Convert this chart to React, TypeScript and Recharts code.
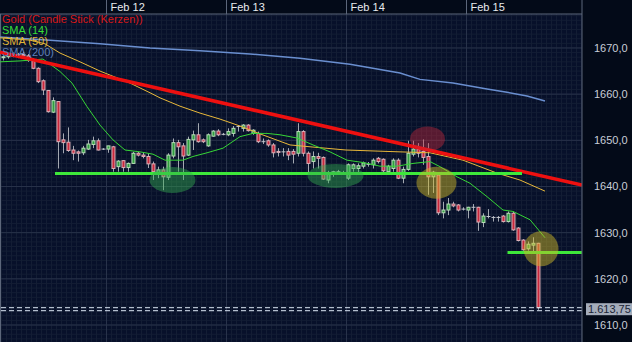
import React from 'react';
import { ComposedChart, Bar, Line, Scatter, XAxis, YAxis, CartesianGrid, ReferenceLine, ReferenceDot } from 'recharts';

// hourly gold candles, index = hour slot from the left edge
const opens = [
  1667.9, 1668.1, 1668.4, 1668.2, 1668.6, 1668.3, 1667.2, 1665.6, 1662.9, 1660.8,
  1656.1, 1658.4, 1650.1, 1649.6, 1647.9, 1647.5, 1647.3, 1648.1, 1649.1, 1649.9,
  1648.1, 1648.1, 1648.6, 1644.3, 1645.6, 1644.1, 1645.0, 1647.2, 1646.8, 1646.5,
  1644.9, 1642.9, 1643.6, 1642.0, 1646.6, 1649.5, 1648.8, 1646.8, 1650.1, 1651.2,
  1650.1, 1648.8, 1650.9, 1652.0, 1651.3, 1651.2, 1651.5, 1653.0, 1652.6, 1653.3,
  1651.5, 1651.5, 1649.7, 1649.9, 1649.0, 1647.6, 1647.5, 1647.6, 1647.6, 1647.2,
  1651.9, 1647.2, 1645.4, 1646.5, 1646.3, 1641.4, 1642.9, 1642.9, 1643.0, 1641.8,
  1643.9, 1643.9, 1644.4, 1644.8, 1644.7, 1646.1, 1645.9, 1643.2, 1643.9, 1645.7,
  1641.8, 1643.7, 1647.0, 1648.1, 1647.6, 1646.5, 1642.1, 1642.5, 1634.3, 1634.9,
  1636.2, 1636.0, 1635.1, 1634.9, 1635.5, 1635.5, 1632.2, 1633.5, 1633.3, 1633.3,
  1633.6, 1632.4, 1634.2, 1631.0, 1628.4, 1626.5, 1627.3, 1627.7,
];
const highs = [
  1668.4, 1668.8, 1669.0, 1668.9, 1669.2, 1668.7, 1667.8, 1665.8, 1663.2, 1660.9,
  1659.3, 1658.5, 1651.5, 1652.8, 1648.8, 1647.8, 1648.8, 1650.1, 1650.8, 1650.4,
  1648.3, 1648.8, 1648.8, 1645.7, 1645.7, 1645.2, 1647.5, 1647.5, 1647.3, 1647.2,
  1645.4, 1644.3, 1644.3, 1647.2, 1650.4, 1650.1, 1649.4, 1650.8, 1652.1, 1653.7,
  1650.4, 1651.5, 1652.2, 1652.4, 1651.6, 1652.6, 1653.1, 1653.3, 1653.5, 1653.5,
  1652.4, 1651.9, 1650.4, 1650.2, 1649.4, 1648.3, 1648.3, 1648.3, 1648.1, 1653.7,
  1652.2, 1647.6, 1647.6, 1647.3, 1646.5, 1643.4, 1643.4, 1643.6, 1643.4, 1645.0,
  1645.0, 1645.0, 1645.4, 1645.3, 1646.1, 1646.4, 1646.1, 1644.7, 1646.1, 1646.1,
  1644.3, 1649.9, 1649.9, 1649.4, 1650.2, 1649.4, 1643.4, 1642.6, 1636.7, 1637.5,
  1636.7, 1636.2, 1635.5, 1635.6, 1636.2, 1635.6, 1634.2, 1635.1, 1633.6, 1633.6,
  1633.8, 1634.6, 1634.6, 1631.2, 1628.6, 1628.1, 1629.0, 1627.8,
];
const lows = [
  1667.3, 1667.7, 1668.0, 1667.8, 1668.1, 1667.0, 1665.4, 1662.4, 1659.8, 1656.0,
  1655.9, 1643.9, 1647.2, 1647.5, 1645.7, 1645.4, 1646.8, 1647.9, 1648.3, 1647.8,
  1647.9, 1647.3, 1643.2, 1643.2, 1643.2, 1643.2, 1644.9, 1646.5, 1646.1, 1644.0,
  1641.4, 1641.8, 1639.2, 1641.4, 1646.1, 1643.2, 1641.4, 1646.6, 1647.9, 1649.5,
  1649.4, 1648.6, 1650.8, 1650.9, 1651.1, 1650.9, 1650.8, 1651.9, 1651.9, 1651.9,
  1651.2, 1649.4, 1649.2, 1648.6, 1646.3, 1646.5, 1646.5, 1645.7, 1645.0, 1646.5,
  1646.5, 1642.9, 1643.9, 1643.9, 1641.4, 1640.7, 1642.1, 1642.5, 1642.6, 1641.4,
  1643.2, 1642.9, 1643.9, 1644.3, 1643.9, 1645.0, 1643.0, 1642.9, 1643.2, 1641.6,
  1640.7, 1643.4, 1646.5, 1646.3, 1644.7, 1638.2, 1638.6, 1633.8, 1633.1, 1633.8,
  1635.5, 1634.6, 1634.8, 1633.1, 1634.6, 1630.4, 1631.2, 1633.1, 1632.4, 1632.4,
  1632.2, 1632.2, 1630.4, 1628.1, 1626.1, 1626.1, 1625.9, 1613.3,
];
const closes = [
  1668.1, 1668.4, 1668.2, 1668.6, 1668.3, 1667.3, 1665.6, 1662.7, 1660.9, 1656.2,
  1658.6, 1649.7, 1649.5, 1647.8, 1647.2, 1647.2, 1648.3, 1649.2, 1649.9, 1647.9,
  1648.1, 1648.8, 1643.9, 1645.5, 1644.1, 1645.0, 1647.2, 1646.8, 1646.5, 1644.9,
  1643.2, 1643.6, 1642.1, 1646.8, 1649.5, 1648.6, 1646.6, 1650.2, 1651.2, 1649.7,
  1649.7, 1651.2, 1652.0, 1651.2, 1651.3, 1651.9, 1652.6, 1653.0, 1653.3, 1652.1,
  1652.2, 1649.7, 1649.7, 1649.0, 1647.3, 1647.4, 1647.5, 1646.8, 1647.0, 1651.9,
  1647.2, 1645.0, 1646.5, 1646.1, 1641.6, 1642.9, 1643.2, 1643.2, 1643.0, 1644.7,
  1644.7, 1644.5, 1645.1, 1644.8, 1645.7, 1645.4, 1643.4, 1644.4, 1645.7, 1641.8,
  1643.7, 1647.2, 1648.1, 1647.2, 1646.3, 1642.1, 1643.1, 1634.3, 1634.9, 1636.2,
  1635.8, 1634.9, 1635.1, 1635.5, 1635.5, 1632.3, 1633.6, 1633.5, 1633.3, 1633.3,
  1632.4, 1634.2, 1630.6, 1628.3, 1626.3, 1627.5, 1627.7, 1613.75,
];

// moving averages as [slot, price]
const sma14: [number, number][] = [
  [-0.7, 1667.0], [3.3, 1667.2], [7.9, 1667.6], [11.3, 1664.9], [13.7, 1662.4], [16.7, 1657.3],
  [19.3, 1653.3], [21.9, 1650.1], [24.3, 1647.9], [27.3, 1647.5], [29.9, 1647.0], [32.3, 1645.7],
  [35.9, 1645.7], [37.9, 1646.5], [40.7, 1647.3], [43.9, 1648.3], [47.3, 1650.8], [49.9, 1651.5],
  [52.7, 1651.5], [55.3, 1651.2], [58.7, 1650.5], [61.9, 1649.0], [65.3, 1647.5], [68.7, 1645.7],
  [71.9, 1645.2], [75.3, 1644.4], [78.7, 1644.4], [81.9, 1645.0], [85.3, 1645.4], [87.3, 1644.3],
  [90.7, 1642.1], [93.3, 1640.7], [96.7, 1637.8], [99.9, 1634.9], [101.9, 1634.6], [105.3, 1632.8],
  [108.3, 1628.9],
];
const sma50: [number, number][] = [
  [-0.7, 1672.2], [5.3, 1671.7], [8.3, 1670.9], [11.3, 1668.9], [15.3, 1667.0], [19.3, 1665.0],
  [25.3, 1662.4], [29.3, 1660.3], [31.3, 1659.2], [35.3, 1657.4], [39.3, 1655.9], [43.3, 1654.6],
  [47.3, 1653.1], [51.3, 1651.4], [57.3, 1649.0], [61.3, 1648.6], [68.5, 1647.9], [79.3, 1647.5],
  [85.3, 1647.3], [91.9, 1645.7], [98.7, 1642.9], [103.3, 1641.4], [108.3, 1639.0],
];
const sma200: [number, number][] = [
  [-0.7, 1672.4], [9.3, 1671.7], [19.3, 1670.9], [29.3, 1670.0], [39.3, 1669.4], [49.3, 1668.7],
  [59.3, 1667.8], [69.3, 1666.5], [79.3, 1664.6], [83.3, 1663.2], [89.9, 1662.4], [96.7, 1661.1],
  [100.7, 1660.4], [104.7, 1659.6], [108.3, 1658.5],
];

// hand drawn analysis
const resistance: [number, number][] = [[-0.7, 1669.1], [115.7, 1640.3]];
const supportUpper: [number, number][] = [[10.3, 1642.8], [103.7, 1642.8]];
const supportLower: [number, number][] = [[100.8, 1625.7], [115.7, 1625.7]];
const markerCenters: [number, number][] = [[33.8, 1641.4], [66.4, 1642.3], [84.8, 1650.3], [86.6, 1640.8], [107.5, 1626.5]];
const markerKinds = ['green', 'green', 'red', 'yellow', 'yellow'];
const markerRadii: [number, number][] = [[23, 13], [28, 12], [17.5, 12.5], [20, 16], [17.5, 17.5]];
const markerFill: Record<string, string> = {
  green: 'rgba(50,170,80,0.45)',
  red: 'rgba(200,40,60,0.42)',
  yellow: 'rgba(210,185,40,0.48)',
};

const lastPrice = 1613.75;
const quoteLines = [1613.75, 1613.1];

const dayTicks = [20.6, 44.6, 68.6, 92.6];
const dayLabels = ['Feb 12', 'Feb 13', 'Feb 14', 'Feb 15'];
const priceTicks = [1610, 1620, 1630, 1640, 1650, 1660, 1670];

const xDomain: [number, number] = [-0.7, 115.7];
const yDomain: [number, number] = [1606.32, 1677.36];

const FONT = '"Liberation Sans", Arial, sans-serif';
const BORDER = '#5c667a';

const minorPrices = Array.from({ length: 71 }, (_, i) => 1607 + i);
const minorSlots = Array.from({ length: 117 }, (_, i) => i - 0.4);

const toPts = (arr: [number, number][]) => arr.map(([k, p]) => ({ k, p }));

const Candle = (props: any) => {
  const { x, y, width, height, payload } = props;
  if (!payload || x == null) return null;
  const { open, close, high, low } = payload;
  const top = height < 0 ? y + height : y;
  const h = Math.abs(height);
  const ppu = h / (high - low);
  const cx = x + width / 2;
  const yO = top + (high - open) * ppu;
  const yC = top + (high - close) * ppu;
  const bodyTop = Math.min(yO, yC);
  const bodyH = Math.max(Math.abs(yO - yC), 1);
  const up = close > open;
  const flat = close === open;
  return (
    <g>
      <line x1={cx} x2={cx} y1={top} y2={top + h} stroke="#a9aeb7" strokeWidth={1} />
      {flat ? (
        <line x1={cx - 2} x2={cx + 2} y1={bodyTop} y2={bodyTop} stroke="#c4c8cf" strokeWidth={1} />
      ) : (
        <rect
          x={cx - 1.5}
          y={bodyTop}
          width={3}
          height={bodyH}
          fill={up ? '#2f9e3f' : '#c8283c'}
          stroke={up ? '#b8dcb8' : '#dcb0b8'}
          strokeWidth={1}
        />
      )}
    </g>
  );
};

const DayTick = (props: any) => {
  const { x, payload } = props;
  const i = dayTicks.indexOf(payload.value);
  return (
    <g>
      <line x1={x} x2={x} y1={0} y2={14} stroke={BORDER} />
      {i >= 0 && (
        <text x={x + 4} y={11} fill="#e8eaee" fontSize={11} fontFamily={FONT}>
          {dayLabels[i]}
        </text>
      )}
    </g>
  );
};

const PriceTick = (props: any) => {
  const { x, y, payload } = props;
  return (
    <text x={x} y={y + 4} fill="#c9ced8" fontSize={11} fontFamily={FONT} textAnchor="start">
      {`${payload.value},0`}
    </text>
  );
};

const PriceBox = (props: any) => {
  const { cx, cy } = props;
  return (
    <g>
      <rect x={cx + 4} y={cy - 4.5} width={46} height={12} fill="#a4acba" />
      <text x={cx + 6} y={cy + 5.5} fill="#1a2436" fontSize={11} fontFamily={FONT}>
        1.613,75
      </text>
    </g>
  );
};

const Marker = (props: any) => {
  const { cx, cy, payload } = props;
  const [rx, ry] = markerRadii[payload.i];
  return <ellipse cx={cx} cy={cy} rx={rx} ry={ry} fill={markerFill[payload.kind]} />;
};

const legend = [
  { text: 'Gold (Candle Stick (Kerzen))', color: '#d81818' },
  { text: 'SMA (14)', color: '#36dc36' },
  { text: 'SMA (50)', color: '#e0b436' },
  { text: 'SMA (200)', color: '#5f80b8' },
];

export default function App() {
  const candles = opens.map((o, i) => ({
    k: i,
    open: o,
    high: highs[i],
    low: lows[i],
    close: closes[i],
    range: [lows[i], highs[i]],
  }));
  const markers = markerCenters.map(([k, p], i) => ({ k, p, i, kind: markerKinds[i] }));

  return (
    <div
      style={{
        position: 'absolute',
        left: 0,
        top: 0,
        width: 632,
        height: 342,
        background: '#030a18',
        overflow: 'hidden',
        fontFamily: FONT,
      }}
    >
      <ComposedChart width={632} height={342} data={candles} margin={{ top: 0, right: 0, bottom: 0, left: 0 }}>
        <CartesianGrid
          fill="#07102a"
          stroke="#131d34"
          horizontalValues={minorPrices}
          verticalValues={minorSlots}
        />
        <CartesianGrid stroke="#28324a" horizontalValues={priceTicks} verticalValues={dayTicks} />
        <XAxis
          dataKey="k"
          type="number"
          orientation="top"
          height={14}
          domain={xDomain}
          allowDataOverflow
          ticks={[...dayTicks, xDomain[1]]}
          interval={0}
          tick={<DayTick />}
          tickLine={false}
          axisLine={{ stroke: BORDER }}
        />
        <YAxis
          orientation="right"
          type="number"
          width={50}
          domain={yDomain}
          allowDataOverflow
          ticks={priceTicks}
          interval={0}
          tick={<PriceTick />}
          tickLine={false}
          tickSize={0}
          tickMargin={12}
          axisLine={{ stroke: BORDER }}
        />
        <ReferenceLine x={xDomain[0]} stroke={BORDER} strokeWidth={2} />
        {quoteLines.map((q) => (
          <ReferenceLine key={q} y={q} stroke="#dbe5f4" strokeDasharray="5 3" />
        ))}
        <Bar dataKey="range" barSize={4} shape={(p: any) => <Candle {...p} />} isAnimationActive={false} />
        <Line data={toPts(sma200)} dataKey="p" stroke="#6a8fd0" strokeWidth={1.5} dot={false} isAnimationActive={false} />
        <Line data={toPts(sma50)} dataKey="p" stroke="#e8b83a" strokeWidth={1} dot={false} isAnimationActive={false} />
        <Line data={toPts(sma14)} dataKey="p" stroke="#36d636" strokeWidth={1} dot={false} isAnimationActive={false} />
        <Scatter data={markers} dataKey="p" shape={(p: any) => <Marker {...p} />} isAnimationActive={false} />
        <Line data={toPts(resistance)} dataKey="p" stroke="#ee1010" strokeWidth={3.5} dot={false} isAnimationActive={false} />
        <Line data={toPts(supportUpper)} dataKey="p" stroke="#3ee83a" strokeWidth={3} dot={false} isAnimationActive={false} />
        <Line data={toPts(supportLower)} dataKey="p" stroke="#3ee83a" strokeWidth={3} dot={false} isAnimationActive={false} />
        <ReferenceDot x={xDomain[1]} y={lastPrice} ifOverflow="visible" shape={(p: any) => <PriceBox {...p} />} />
      </ComposedChart>
      {legend.map((l, i) => (
        <div
          key={l.text}
          style={{
            position: 'absolute',
            left: 2,
            top: 14 + i * 11,
            fontSize: 11,
            lineHeight: '11px',
            height: 11,
            color: l.color,
            whiteSpace: 'nowrap',
          }}
        >
          {l.text}
        </div>
      ))}
    </div>
  );
}
